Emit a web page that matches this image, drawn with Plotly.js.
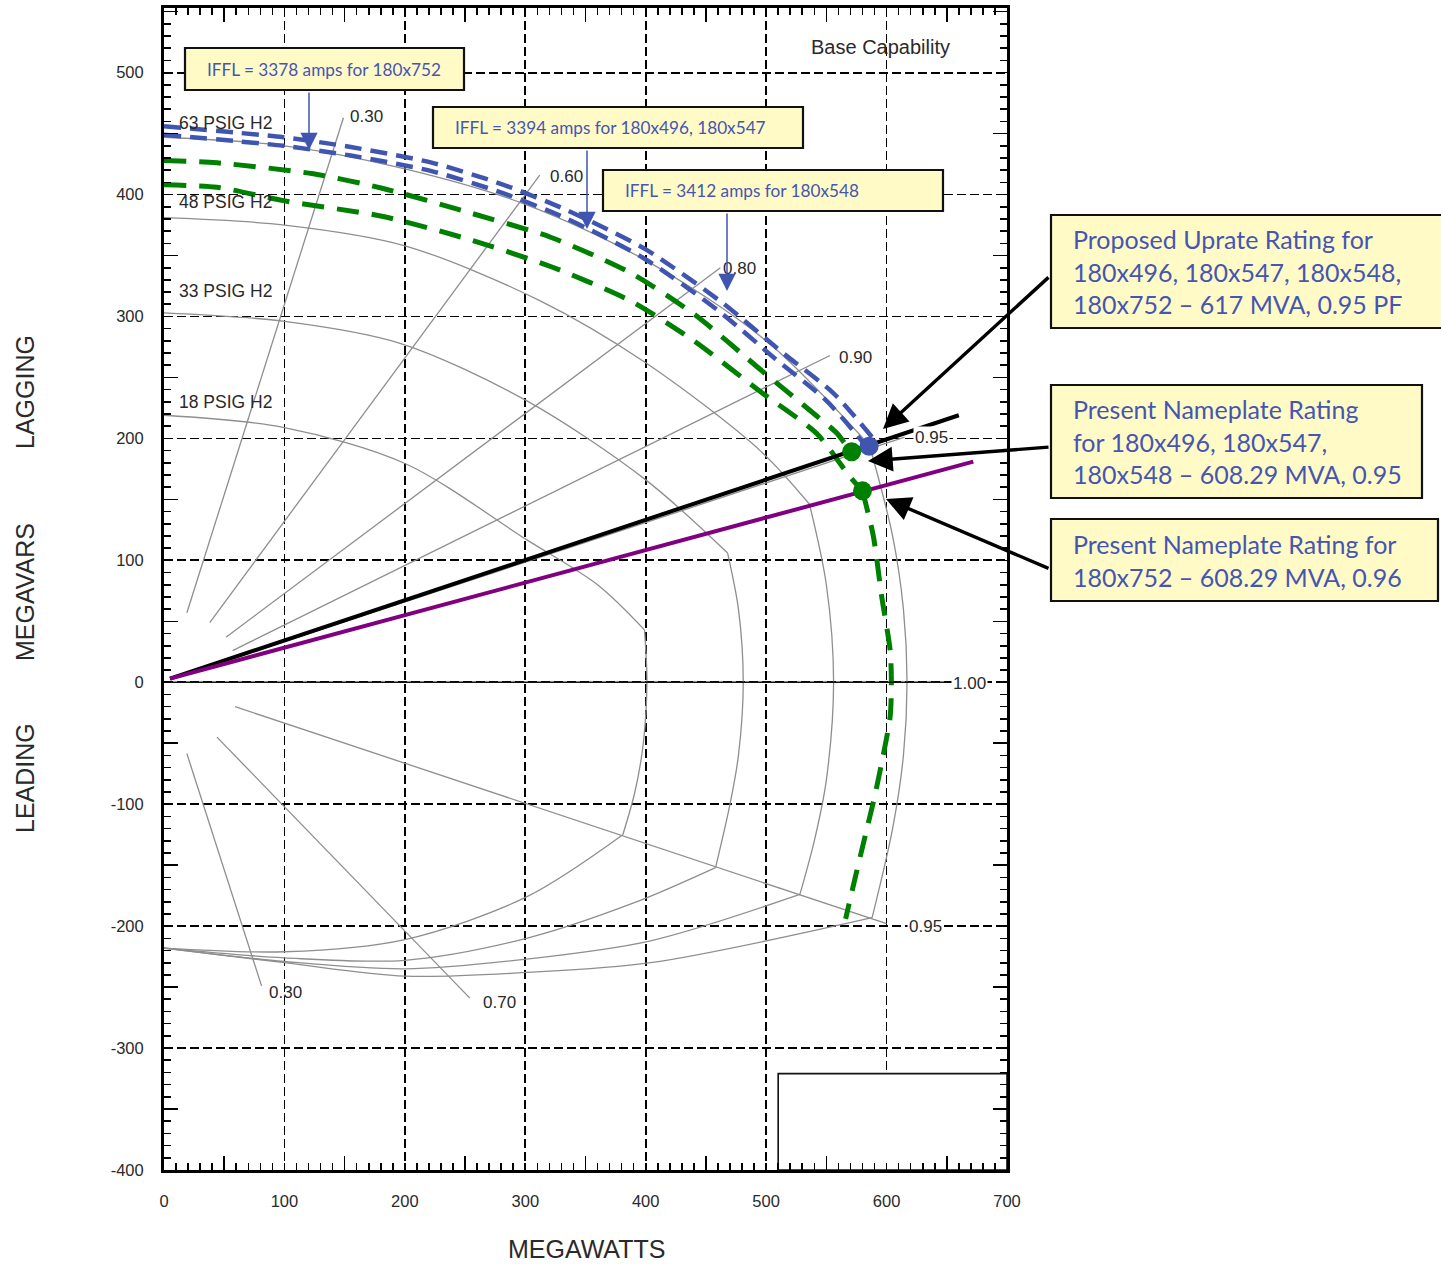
<!DOCTYPE html>
<html><head><meta charset="utf-8">
<script src="https://cdn.plot.ly/plotly-3.0.1.min.js"></script>
<style>body{margin:0;background:#fff}#chart{width:1441px;height:1264px}</style>
</head><body><div id="chart"></div>
<script>
// ---------------- DATA (MW, MVAR) ----------------
const xTickVals = [0, 100, 200, 300, 400, 500, 600, 700];
const xTickText = ['0', '100', '200', '300', '400', '500', '600', '700'];
const yTickVals = [-400, -300, -200, -100, 0, 100, 200, 300, 400, 500];
const yTickText = ['-400', '-300', '-200', '-100', '0', '100', '200', '300', '400', '500'];

const psigLabels = ['63 PSIG H2', '48 PSIG H2', '33 PSIG H2', '18 PSIG H2'];

// field heating (lagging) limits
const field63Mw = [0, 100, 200, 300, 400, 500, 586];
const field63Mvar = [447, 440, 421, 392, 346, 280, 194];
const field48Mw = [0, 100, 200, 312, 400, 495, 536];
const field48Mvar = [381, 375, 358, 313, 262, 190, 146];
const field33Mw = [0, 100, 196, 301, 400, 468];
const field33Mvar = [303, 296, 278, 231, 166, 106];
const field18Mw = [0, 99, 201, 301, 360, 399];
const field18Mvar = [219, 209, 179, 117, 80, 43];

// armature limits
const arm63Mw = [586, 605, 614, 617, 614, 605, 588];
const arm63Mvar = [194, 120, 60, 0, -60, -120, -193];
const arm48Mw = [536, 550, 556, 550, 540, 528];
const arm48Mvar = [146, 80, 0, -80, -130, -174];
const arm33Mw = [468, 477, 481, 477, 470, 458];
const arm33Mvar = [106, 60, 0, -60, -100, -152];
const arm18Mw = [399, 401, 398, 391, 381];
const arm18Mvar = [43, 0, -50, -90, -125];

// core-end (leading) limits
const lead63Mw = [0, 100, 200, 301, 404, 588];
const lead63Mvar = [-218, -230, -241, -238, -230, -193];
const lead48Mw = [0, 100, 200, 301, 404, 528];
const lead48Mvar = [-218, -229, -235, -227, -212, -174];
const lead33Mw = [0, 100, 200, 301, 390, 458];
const lead33Mvar = [-218, -226, -228, -210, -181, -152];
const lead18Mw = [0, 100, 200, 301, 381];
const lead18Mvar = [-218, -221, -211, -176, -125];

// power-factor rays
const rayPf = ['0.30', '0.60', '0.80', '0.90', '0.95', '0.95', '0.70', '0.30'];
const rayStartMw = [19, 38, 51.5, 57, 59, 59, 44, 19];
const rayStartMvar = [57, 49, 37, 26, 20, -20, -45, -58.5];
const rayEndMw = [149, 312, 462, 553, 615, 600, 254, 81];
const rayEndMvar = [463, 416, 340, 268, 201, -198, -259, -249];
const unityMw = [0, 650];
const unityMvar = [0, 0];

// IFFL curves (blue, double) and present limits (green)
const ifflUpperMw = [0, 99, 155, 223, 282, 335, 400, 464, 514, 556, 588];
const ifflUpperMvar = [456, 447, 439, 426, 408, 387, 355, 311, 270, 237, 201];
const ifflLowerMw = [0, 99, 155, 223, 282, 335, 398, 460, 508, 550, 581];
const ifflLowerMvar = [449, 440, 432, 419, 401, 380, 348, 305, 265, 231, 196];
const greenAMw = [0, 44, 124, 182, 254, 321, 387, 440, 497, 540, 559, 570];
const greenAMvar = [428, 426, 417, 405, 385, 365, 336, 302, 255, 220, 204, 189];
const greenBMw = [0, 44, 99, 182, 254, 321, 387, 440, 497, 542, 570, 580];
const greenBMvar = [408, 406, 395, 382, 363, 341, 313, 280, 237, 204, 168, 157];
const greenCMw = [580, 589, 596, 603, 604, 603, 597, 590, 582, 574, 566];
const greenCMvar = [157, 120, 70, 26, 0, -28, -61, -94, -127, -160, -194];

// rating lines and points
const pf095LineMw = [5, 660];
const pf095LineMvar = [3, 219];
const pf096LineMw = [5, 672];
const pf096LineMvar = [3, 181];
const uprateMw = [585.5];
const uprateMvar = [193.6];
const nameplateMw = [571, 580];
const nameplateMvar = [189, 157];

const iffLTexts = ['IFFL = 3378 amps for 180x752', 'IFFL = 3394 amps for 180x496, 180x547', 'IFFL = 3412 amps for 180x548'];
const ratingTexts = [
  'Proposed Uprate Rating for<br>180x496, 180x547, 180x548,<br>180x752 – 617 MVA, 0.95 PF',
  'Present Nameplate Rating<br>for 180x496, 180x547,<br>180x548 – 608.29 MVA, 0.95',
  'Present Nameplate Rating for<br>180x752 – 608.29 MVA, 0.96'
];

// ---------------- helpers ----------------
const L = 164, R = 1007, T = 8, B = 1170;
const px = p => (p - L) / (R - L);
const py = p => (B - p) / (B - T);
const GRAY = '#8e8e8e';
const NARROW = '"Liberation Sans Narrow", "Arial Narrow", "Liberation Sans", Arial, sans-serif';
const BOXFONT = 'Lato, "Open Sans", sans-serif';
const BLUE_TXT = '#4456b2';

const traces = [];
function grayCurve(x, y) {
  traces.push({x, y, type: 'scatter', mode: 'lines', line: {color: GRAY, width: 1.3, shape: 'spline', smoothing: 0.9}, hoverinfo: 'skip', showlegend: false});
}
[[field63Mw, field63Mvar], [field48Mw, field48Mvar], [field33Mw, field33Mvar], [field18Mw, field18Mvar],
 [arm63Mw, arm63Mvar], [arm48Mw, arm48Mvar], [arm33Mw, arm33Mvar], [arm18Mw, arm18Mvar],
 [lead63Mw, lead63Mvar], [lead48Mw, lead48Mvar], [lead33Mw, lead33Mvar], [lead18Mw, lead18Mvar]]
  .forEach(c => grayCurve(c[0], c[1]));
rayPf.forEach((pf, i) => {
  traces.push({x: [rayStartMw[i], rayEndMw[i]], y: [rayStartMvar[i], rayEndMvar[i]], type: 'scatter', mode: 'lines',
    line: {color: GRAY, width: 1.3}, name: pf, hoverinfo: 'skip', showlegend: false});
});
// unity PF line, placed on the overlay axes so that they get drawn
traces.push({x: unityMw, y: unityMvar, xaxis: 'x2', yaxis: 'y2', type: 'scatter', mode: 'lines', line: {color: '#111', width: 1.6}, showlegend: false, hoverinfo: 'skip'});

function dashed(x, y, color, width, dash) {
  traces.push({x, y, type: 'scatter', mode: 'lines', line: {color, width, dash, shape: 'spline', smoothing: 0.7}, showlegend: false, hoverinfo: 'skip'});
}
dashed(greenAMw, greenAMvar, '#008000', 5, '22px,13px');
dashed(greenBMw, greenBMvar, '#008000', 5, '22px,13px');
dashed(greenCMw, greenCMvar, '#008000', 5, '22px,13px');
dashed(ifflUpperMw, ifflUpperMvar, '#3f55b0', 4.5, '17px,9px');
dashed(ifflLowerMw, ifflLowerMvar, '#3f55b0', 4.5, '17px,9px');

traces.push({x: pf095LineMw, y: pf095LineMvar, type: 'scatter', mode: 'lines', line: {color: '#000', width: 4}, showlegend: false, hoverinfo: 'skip'});
traces.push({x: pf096LineMw, y: pf096LineMvar, type: 'scatter', mode: 'lines', line: {color: '#800080', width: 4}, showlegend: false, hoverinfo: 'skip'});
traces.push({x: uprateMw, y: uprateMvar, type: 'scatter', mode: 'markers', marker: {color: '#3f55b0', size: 19}, showlegend: false});
traces.push({x: nameplateMw, y: nameplateMvar, type: 'scatter', mode: 'markers', marker: {color: '#008000', size: 19}, showlegend: false});

// ---------------- annotations ----------------
const ann = [];
function txt(xp, yp, text, size, opts) {
  ann.push(Object.assign({xref: 'paper', yref: 'paper', x: px(xp), y: py(yp), text, showarrow: false,
    xanchor: 'left', yanchor: 'middle', font: {family: NARROW, size, color: '#2a2a2a'}}, opts || {}));
}
psigLabels.forEach((t, i) => txt(177, [123, 202, 291, 402][i], t, 17.5));
const pfLabelPos = [[348, 117], [548, 176], [721, 268], [837, 358], [913, 437], [907, 926], [481, 1002], [267, 992]];
rayPf.forEach((pf, i) => txt(pfLabelPos[i][0], pfLabelPos[i][1], pf, 17, i === 4 || i === 5 ? {bgcolor: '#fff'} : {}));
txt(951, 683, '1.00', 17, {bgcolor: '#fff'});
txt(809, 47, 'Base Capability', 20);
txt(586, 1249, 'MEGAWATTS', 25, {xanchor: 'center'});
[['LAGGING', 392], ['MEGAVARS', 592], ['LEADING', 778]].forEach(a =>
  txt(25, a[1], a[0], 25, {xanchor: 'center', textangle: -90}));

// callout boxes
const shapes = [];
const smallBoxes = [[185, 48, 464, 90], [433, 107, 803, 148], [603, 170, 943, 211]];
const bigBoxes = [[1051, 215, 1450, 328], [1051, 385, 1422, 498], [1051, 519, 1438, 601]];
smallBoxes.concat(bigBoxes).forEach(b => shapes.push({type: 'rect', xref: 'paper', yref: 'paper',
  x0: px(b[0]), x1: px(b[2]), y0: py(b[3]), y1: py(b[1]), fillcolor: '#fffac6', line: {color: '#111', width: 2.2}, layer: 'above'}));
iffLTexts.forEach((t, i) => ann.push({xref: 'paper', yref: 'paper', x: px(smallBoxes[i][0] + 20), y: py((smallBoxes[i][1] + smallBoxes[i][3]) / 2),
  text: t, showarrow: false, xanchor: 'left', yanchor: 'middle', font: {family: BOXFONT, size: 17.2, color: BLUE_TXT}}));
ratingTexts.forEach((t, i) => ann.push({xref: 'paper', yref: 'paper', x: px(1071), y: py((bigBoxes[i][1] + bigBoxes[i][3]) / 2),
  text: t, showarrow: false, xanchor: 'left', yanchor: 'middle', align: 'left', font: {family: BOXFONT, size: 25, color: BLUE_TXT}}));

// blue arrows from IFFL boxes
[[309, 91, 150], [587, 149, 229], [727, 212, 291]].forEach(a => ann.push({xref: 'paper', yref: 'paper',
  x: px(a[0]), y: py(a[2]), ax: 0, ay: a[1] - a[2], text: '', showarrow: true, arrowhead: 2, arrowsize: 2.3,
  arrowwidth: 1.5, arrowcolor: '#3f55b0', standoff: 0}));
// black arrows from rating boxes
[[883, 429, 1050, 276], [868, 461, 1050, 447], [886, 499, 1050, 569]].forEach(a => ann.push({xref: 'paper', yref: 'paper',
  x: px(a[0]), y: py(a[1]), ax: a[2] - a[0], ay: a[3] - a[1], text: '', showarrow: true, arrowhead: 2, arrowsize: 1.45,
  arrowwidth: 3.4, arrowcolor: '#000', standoff: 0}));

// bottom-right title block
shapes.push({type: 'rect', xref: 'x', yref: 'y', x0: 510, x1: 700, y0: -400, y1: -321, fillcolor: '#fff', line: {color: '#111', width: 1.6}, layer: 'between'});

const tickFont = {family: NARROW, size: 16.5, color: '#2a2a2a'};
const minorTicks = {tickmode: 'linear', dtick: 10, tick0: 0, ticks: 'inside', ticklen: 7, tickwidth: 1.6, tickcolor: '#000', showgrid: false};
const mainAx = {tickmode: 'array', ticks: 'inside', ticklen: 7, tickwidth: 1.6, tickcolor: '#000',
  showticklabels: true, tickfont: tickFont, ticklabelstandoff: 14,
  showgrid: true, gridcolor: '#000', gridwidth: 1.8, griddash: '9px,4px',
  zeroline: false, showline: true, linewidth: 3, linecolor: '#000', mirror: 'allticks', fixedrange: true, minor: minorTicks};
const halfAx = {tick0: 50, dtick: 100, ticks: 'inside', ticklen: 14, tickwidth: 1.6, tickcolor: '#000',
  showticklabels: false, showgrid: false, zeroline: false, showline: false, mirror: 'allticks', fixedrange: true};
const layout = {
  width: 1441, height: 1264, margin: {l: L, r: 1441 - R, t: T, b: 1264 - B},
  paper_bgcolor: '#fff', plot_bgcolor: '#fff', showlegend: false,
  xaxis: Object.assign({}, mainAx, {range: [0, 700], tickvals: xTickVals, ticktext: xTickText}),
  yaxis: Object.assign({}, mainAx, {range: [-400, 553], tickvals: yTickVals, ticktext: yTickText}),
  xaxis2: Object.assign({}, halfAx, {overlaying: 'x', anchor: 'y2', side: 'bottom', range: [0, 700]}),
  yaxis2: Object.assign({}, halfAx, {overlaying: 'y', anchor: 'x2', side: 'left', range: [-400, 553]}),
  shapes, annotations: ann
};
Plotly.newPlot('chart', traces, layout, {displayModeBar: false, staticPlot: true});
</script></body></html>
